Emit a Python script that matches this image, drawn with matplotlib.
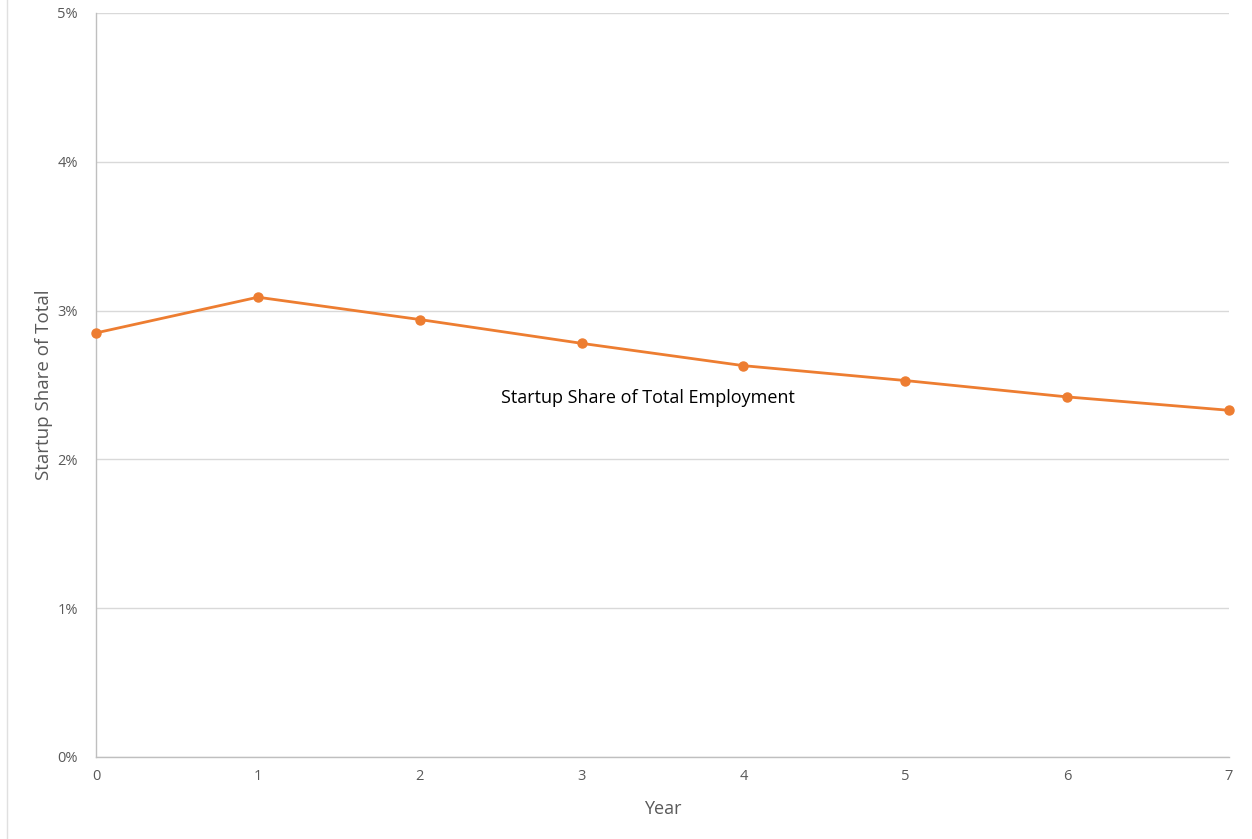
import matplotlib.pyplot as plt
from matplotlib.lines import Line2D
from matplotlib.ticker import PercentFormatter

years = [0, 1, 2, 3, 4, 5, 6, 7]
startup_share = [0.0285, 0.0309, 0.0294, 0.0278, 0.0263, 0.0253, 0.0242, 0.0233]
y_ticks = [0.0, 0.01, 0.02, 0.03, 0.04, 0.05]

plt.rcParams["font.family"] = ["Open Sans", "DejaVu Sans"]

fig = plt.figure(figsize=(12.52, 8.39), dpi=100)
ax = fig.add_axes([96 / 1252, 82 / 839, 1133 / 1252, 744 / 839])

ax.plot(years, startup_share, color="#ED7D31", linewidth=2.0,
        marker="o", markersize=6.5, clip_on=False, zorder=3)

ax.set_xlim(0, 7)
ax.set_ylim(0, 0.05)
ax.set_xticks(years)
ax.set_yticks(y_ticks)
ax.yaxis.set_major_formatter(PercentFormatter(1.0, decimals=0))
ax.grid(axis="y", color="#d9d9d9", linewidth=1.0)
ax.set_axisbelow(True)

for side in ["top", "right"]:
    ax.spines[side].set_visible(False)
for side in ["left", "bottom"]:
    ax.spines[side].set_color("#bfbfbf")
    ax.spines[side].set_linewidth(1.0)

ax.tick_params(length=0, colors="#595959", labelsize=10.5)
ax.tick_params(axis="x", pad=9)
ax.tick_params(axis="y", pad=13)

ax.set_ylabel("Startup Share of Total", fontsize=13.5, color="#595959", labelpad=3)
ax.set_xlabel("Year", fontsize=13, color="#595959", labelpad=11)

ax.text(3.41, 0.02415, "Startup Share of Total Employment", fontsize=13,
        color="#000000", ha="center", va="center")

fig.add_artist(Line2D([7 / 1252, 7 / 1252], [0, 1], color="#e0e0e0",
                      linewidth=1.0, transform=fig.transFigure))

fig.savefig("out.png", dpi=100)
